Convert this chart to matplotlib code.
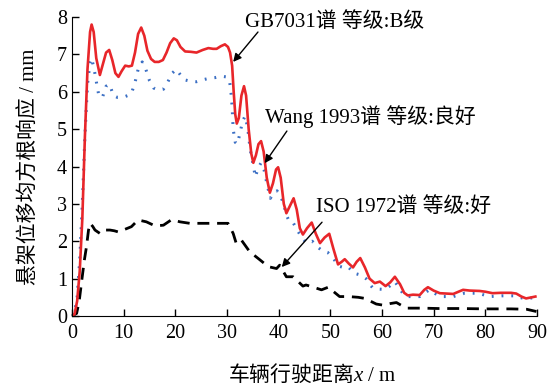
import numpy as np
import matplotlib.pyplot as plt

plt.rcParams['font.family'] = ['Liberation Serif', 'Noto Sans CJK SC']
# mathtext only for the italic x in the axis label
plt.rcParams['mathtext.fontset'] = 'custom'
plt.rcParams['mathtext.rm'] = 'Liberation Serif'
plt.rcParams['mathtext.it'] = 'Liberation Serif:italic'
plt.rcParams['mathtext.sf'] = 'Liberation Serif'

# GB7031 spectrum, class B
gb_x = [0, 0.5, 1, 1.5, 2, 2.5, 3, 3.5, 3.8, 4.2, 4.7, 5.4, 6, 6.6, 7.2, 7.8, 8.4, 9, 9.6, 10.3,
        11, 11.6, 12.2, 12.8, 13.4, 14, 14.6, 15.3, 16, 16.8, 17.6, 18.3, 19, 19.7, 20.3, 21,
        21.9, 23, 24.1, 25.3, 26.4, 27.3, 28, 28.8, 29.6, 30.2, 30.6, 31, 31.3, 31.6, 31.9,
        32.3, 32.8, 33.3, 33.7, 34.2, 34.7, 35.1, 35.6, 36.1, 36.6, 37.1, 37.7, 38.3, 38.9,
        39.5, 39.9, 40.4, 41, 41.5, 42.2, 42.9, 43.5, 44.1, 44.7, 45.5, 46.4, 47.2, 48, 48.9,
        49.8, 50.6, 51.5, 52.2, 52.8, 53.6, 54.4, 55.1, 55.8, 56.7, 57.6, 58.6, 59.6, 60.7,
        61.6, 62.5, 63.5, 64.3, 65, 66, 67.3, 68.2, 68.9, 70, 71.2, 72.5, 73.8, 75, 75.7, 77,
        78.9, 80, 81.4, 83, 85, 86, 87, 87.9, 89, 89.7]
gb_y = [0, 0.05, 0.4, 1.2, 2.6, 4.8, 6.6, 7.6, 7.8, 7.6, 6.9, 6.45, 6.75, 7.05, 7.12, 6.85, 6.5,
        6.4, 6.55, 6.7, 6.68, 6.7, 7.05, 7.55, 7.72, 7.5, 7.1, 6.88, 6.8, 6.8, 6.85, 7.05, 7.3,
        7.43, 7.38, 7.2, 7.08, 7.07, 7.05, 7.12, 7.17, 7.15, 7.15, 7.22, 7.27, 7.2, 7.05, 6.7,
        6.0, 5.4, 5.15, 5.3, 5.9, 6.15, 5.9, 5.0, 4.35, 4.1, 4.3, 4.6, 4.68, 4.4, 3.7, 3.3,
        3.55, 3.92, 3.98, 3.7, 3.0, 2.75, 2.95, 3.15, 2.85, 2.35, 2.18, 2.35, 2.5, 2.2, 1.95,
        2.1, 2.2, 1.8, 1.38, 1.45, 1.52, 1.4, 1.3, 1.45, 1.55, 1.3, 1.0, 0.88, 0.92, 0.8, 0.9,
        1.05, 0.85, 0.62, 0.55, 0.57, 0.56, 0.7, 0.77, 0.68, 0.61, 0.6, 0.59, 0.66, 0.7, 0.68,
        0.67, 0.65, 0.61, 0.62, 0.62, 0.6, 0.52, 0.47, 0.5, 0.52]

# Wang 1993 spectrum, class good
wang_x = [0, 0.5, 1, 1.5, 2, 2.5, 3, 3.5, 3.8, 4.3, 4.8, 5.2, 5.9, 6.6, 7.3, 8, 8.8, 9.8, 10.8,
          11.5, 12.2, 12.8, 13.6, 14.3, 15, 15.8, 16.8, 17.7, 18.5, 19.4, 20.2, 21, 21.8, 23,
          24.1, 25.3, 26.5, 27.7, 28.8, 29.8, 30.5, 30.8, 31, 31.2, 31.6, 32, 32.5, 33, 33.5,
          34, 34.5, 35, 35.5, 36, 36.6, 37.2, 37.8, 38.4, 39, 39.7, 40.3, 40.9, 41.5, 42.1,
          42.8, 43.6, 44.4, 45.4, 46.5, 47.5, 48.5, 49.5, 50.5, 51.5, 52.5, 53.4, 54.7, 55.8,
          56.9, 57.6, 58.3, 59.4, 60.5, 61.5, 62.5, 63.5, 64.3, 65, 67.3, 68.3, 69.2, 70.3,
          71.5, 73.8, 76, 78.6, 80.8, 83.2, 85.7, 87.9, 89.5]
wang_y = [0, 0.1, 0.5, 1.5, 3.0, 4.8, 6.2, 6.8, 6.9, 6.6, 6.2, 5.9, 5.85, 6.15, 6.2, 5.9, 5.85,
          5.85, 5.9, 5.95, 6.25, 6.6, 6.8, 6.6, 6.3, 6.1, 6.05, 6.07, 6.25, 6.5, 6.6, 6.45, 6.32,
          6.28, 6.27, 6.32, 6.36, 6.38, 6.42, 6.4, 6.3, 5.95, 5.6, 5.0, 4.65, 4.6, 4.88, 5.2,
          5.35, 5.05, 4.45, 4.1, 3.72, 3.95, 4.1, 3.9, 3.5, 3.15, 3.3, 3.35, 3.2, 3.05, 2.7,
          2.52, 2.5, 2.3, 2.12, 1.95, 2.0, 1.85, 1.74, 1.7, 1.57, 1.34, 1.3, 1.32, 1.14, 1.1,
          1.0, 0.85, 0.74, 0.72, 0.71, 0.8, 0.92, 0.72, 0.55, 0.52, 0.52, 0.62, 0.7, 0.6, 0.52,
          0.52, 0.61, 0.61, 0.52, 0.54, 0.54, 0.45, 0.5]

# ISO 1972 spectrum, class good
iso_x = [0, 0.9, 1.4, 1.9, 2.4, 2.8, 3.2, 3.5, 4, 4.45, 5.4, 6.05, 7.35, 8.2, 8.95, 9.9, 11.5,
         12.8, 14.4, 16.1, 17.7, 19.3, 20.9, 22.8, 25.4, 28, 30.2, 31.2, 31.8, 32.8, 34.4,
         36.4, 38, 39.6, 40.2, 41.5, 42.8, 44.7, 45.3, 46.5, 48.3, 49.6, 51.8, 53.5, 55.4,
         56.7, 58.9, 60.2, 61.5, 62.8, 64.7, 67.9, 70.8, 75, 80, 85, 88, 89.9]
iso_y = [0, 0.07, 0.4, 0.96, 1.5, 1.85, 2.3, 2.48, 2.4, 2.3, 2.21, 2.3, 2.3, 2.28, 2.25, 2.3,
         2.39, 2.57, 2.52, 2.41, 2.43, 2.58, 2.52, 2.48, 2.48, 2.48, 2.48, 2.21, 1.94, 2.03,
         1.72, 1.5, 1.32, 1.27, 1.36, 1.05, 1.05, 0.8, 0.83, 0.78, 0.7, 0.77, 0.52, 0.52, 0.5,
         0.47, 0.32, 0.29, 0.33, 0.36, 0.21, 0.21, 0.2, 0.2, 0.19, 0.19, 0.18, 0.12]

fig = plt.figure(figsize=(5.47, 3.88), dpi=100)
ax = fig.add_axes([0.1316, 0.1856, 0.85, 0.7704])

ax.plot(iso_x, iso_y, color='black', lw=2, linestyle=(0, (4.3, 2.8)), clip_on=False)
ax.plot(wang_x, wang_y, color='#3b6fc4', lw=2.2, linestyle=(0, (0.6, 2.6)),
        dash_capstyle='butt')
ax.plot(gb_x, gb_y, color='#e8262a', lw=1.9)

ax.set_xlim(0, 90)
ax.set_ylim(0, 8)
ax.set_xticks(np.arange(0, 91, 10))
ax.set_yticks(np.arange(0, 9, 1))
ax.spines['top'].set_visible(False)
ax.spines['right'].set_visible(False)
ax.tick_params(direction='in', length=5, labelsize=14.5, width=1)
ax.tick_params(axis='x', pad=6)

# non-math part of a mathtext string only uses the first family, so give it the CJK font
ax.set_xlabel('车辆行驶距离$x\\mathsf{\\ /\\ m}$', fontsize=15, family='Noto Sans CJK SC')
ax.set_ylabel('悬架位移均方根响应 / mm', fontsize=15)
ax.xaxis.set_label_coords(0.516, -0.155)
ax.yaxis.set_label_coords(-0.07, 0.5)

arrow = dict(arrowstyle='-|>', color='black', lw=1, mutation_scale=12, shrinkA=0, shrinkB=0)
ax.annotate('', xy=(31.2, 6.8), xytext=(36.0, 7.6), arrowprops=arrow)
ax.text(33.5, 7.86, 'GB7031谱 等级:B级', fontsize=15, va='center', ha='left')
ax.annotate('', xy=(37.3, 4.09), xytext=(41.6, 4.95), arrowprops=arrow)
ax.text(37.3, 5.35, 'Wang 1993谱 等级:良好', fontsize=15, va='center', ha='left')
ax.annotate('', xy=(40.6, 1.31), xytext=(48.4, 2.51), arrowprops=arrow)
ax.text(47.2, 2.91, 'ISO 1972谱 等级:好', fontsize=15, va='center', ha='left')

fig.savefig('out.png', dpi=100)
